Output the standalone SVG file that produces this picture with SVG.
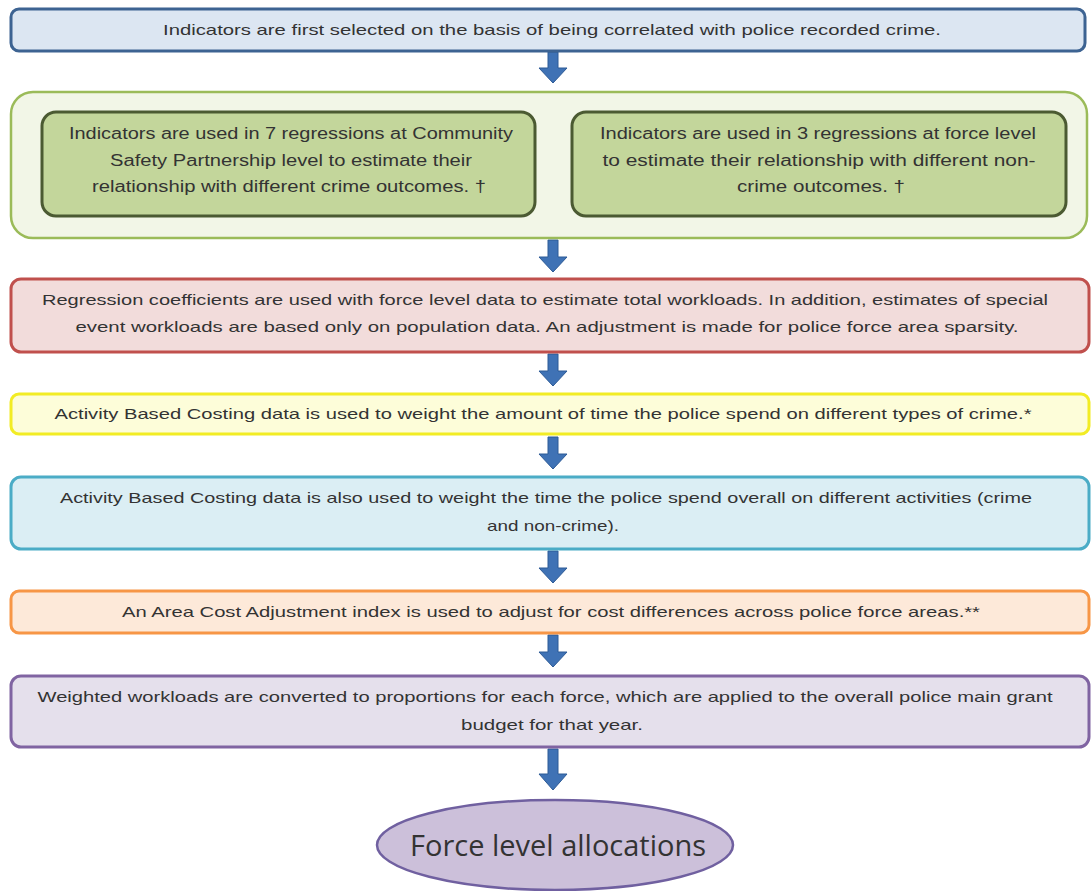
<svg xmlns="http://www.w3.org/2000/svg" width="1091" height="891" viewBox="0 0 1091 891">
<style>
.t{font-family:"Liberation Sans",Arial,sans-serif;font-size:15px;fill:#333;text-anchor:middle}
.ti{font-family:"Liberation Sans",Arial,sans-serif;font-size:16px;fill:#333;text-anchor:middle}
.arr{fill:#3f72b5;stroke:#2c5a96;stroke-width:1}
.box{stroke-width:3}
</style>
<rect width="1091" height="891" fill="#ffffff"/>
<g id="connectors">
<path class="arr" d="M548,52 V68 H539 L553,83 L567,68 H558 V52 Z"/>
<path class="arr" d="M548,240 V257 H539 L553,272 L567,257 H558 V240 Z"/>
<path class="arr" d="M548,354 V371 H539 L553,386 L567,371 H558 V354 Z"/>
<path class="arr" d="M548,437 V454 H539 L553,469 L567,454 H558 V437 Z"/>
<path class="arr" d="M548,551 V568 H539 L553,583 L567,568 H558 V551 Z"/>
<path class="arr" d="M548,635 V652 H539 L553,667 L567,652 H558 V635 Z"/>
<path class="arr" d="M548,749 V774 H539 L553,790 L567,774 H558 V749 Z"/>
</g>
<g id="n1">
<rect class="box" x="11" y="9" width="1074" height="42" rx="8" fill="#dce6f2" stroke="#3d6392"/>
<text class="t" x="552" y="35" textLength="778" lengthAdjust="spacingAndGlyphs">Indicators are first selected on the basis of being correlated with police recorded crime.</text>
</g>
<g id="n2">
<rect x="11" y="92" width="1076" height="146" rx="22" fill="#f2f6e7" stroke="#9bbb59" stroke-width="2.5"/>
</g>
<g id="n2a">
<rect class="box" x="42" y="112" width="493" height="104" rx="14" fill="#c3d69b" stroke="#4b5a32"/>
<text class="ti" x="291" y="139" textLength="444" lengthAdjust="spacingAndGlyphs">Indicators are used in 7 regressions at Community</text>
<text class="ti" x="291" y="166" textLength="362" lengthAdjust="spacingAndGlyphs">Safety Partnership level to estimate their</text>
<text class="ti" x="289" y="192" textLength="394" lengthAdjust="spacingAndGlyphs">relationship with different crime outcomes. †</text>
</g>
<g id="n2b">
<rect class="box" x="572" y="112" width="494" height="104" rx="14" fill="#c3d69b" stroke="#4b5a32"/>
<text class="ti" x="818" y="139" textLength="436" lengthAdjust="spacingAndGlyphs">Indicators are used in 3 regressions at force level</text>
<text class="ti" x="819" y="166" textLength="433" lengthAdjust="spacingAndGlyphs">to estimate their relationship with different non-</text>
<text class="ti" x="821" y="192" textLength="168" lengthAdjust="spacingAndGlyphs">crime outcomes. †</text>
</g>
<g id="n3">
<rect class="box" x="11" y="279" width="1078" height="73" rx="10" fill="#f2dcdb" stroke="#c0504d"/>
<text class="t" x="545" y="305" textLength="1006" lengthAdjust="spacingAndGlyphs">Regression coefficients are used with force level data to estimate total workloads. In addition, estimates of special</text>
<text class="t" x="547" y="332" textLength="943" lengthAdjust="spacingAndGlyphs">event workloads are based only on population data. An adjustment is made for police force area sparsity.</text>
</g>
<g id="n4">
<rect class="box" x="11" y="394" width="1078" height="40" rx="8" fill="#fdfdd9" stroke="#f2ec24"/>
<text class="t" x="543" y="419" textLength="977" lengthAdjust="spacingAndGlyphs">Activity Based Costing data is used to weight the amount of time the police spend on different types of crime.*</text>
</g>
<g id="n5">
<rect class="box" x="11" y="477" width="1078" height="72" rx="10" fill="#dbeef4" stroke="#4bacc6"/>
<text class="t" x="546" y="503" textLength="972" lengthAdjust="spacingAndGlyphs">Activity Based Costing data is also used to weight the time the police spend overall on different activities (crime</text>
<text class="t" x="553" y="531" textLength="132" lengthAdjust="spacingAndGlyphs">and non-crime).</text>
</g>
<g id="n6">
<rect class="box" x="11" y="591" width="1078" height="42" rx="8" fill="#fde9d9" stroke="#f79646"/>
<text class="t" x="551" y="617" textLength="858" lengthAdjust="spacingAndGlyphs">An Area Cost Adjustment  index is used to  adjust for cost differences across police force areas.**</text>
</g>
<g id="n7">
<rect class="box" x="11" y="676" width="1078" height="71" rx="10" fill="#e5e0ec" stroke="#8064a2"/>
<text class="t" x="545" y="702" textLength="1015" lengthAdjust="spacingAndGlyphs">Weighted workloads are converted to proportions for each force, which are applied to the overall police main grant</text>
<text class="t" x="552" y="730" textLength="182" lengthAdjust="spacingAndGlyphs">budget for that year.</text>
</g>
<g id="n8">
<ellipse cx="555" cy="845" rx="178" ry="45" fill="#ccc0da" stroke="#7060a0" stroke-width="2.5"/>
<text x="558" y="856" font-family="Open Sans, Liberation Sans, sans-serif" font-size="29" fill="#333" text-anchor="middle" textLength="296" lengthAdjust="spacingAndGlyphs">Force level allocations</text>
</g>
</svg>
